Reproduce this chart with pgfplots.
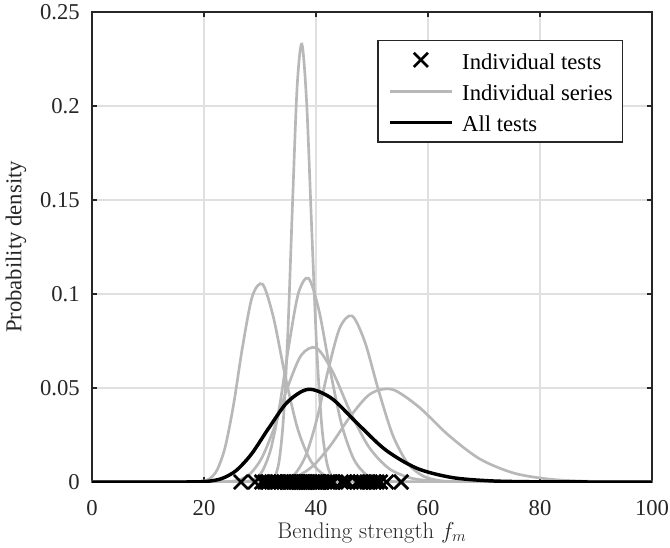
\documentclass[border=0pt]{standalone}
\usepackage{fontspec}
\newfontfamily\tnr{Liberation Serif}
\usepackage{pgfplots}
\pgfplotsset{compat=1.18}
\newcommand{\fsz}{\fontsize{17}{20}\selectfont}
\begin{document}
\begin{tikzpicture}
\useasboundingbox (-69pt,-48.75pt) rectangle (433.5pt,361.5pt);
\begin{axis}[
  at={(0pt,0pt)}, anchor=south west,
  scale only axis, width=420pt, height=352.5pt,
  xmin=0, xmax=100, ymin=0, ymax=0.25,
  xtick={0,20,40,60,80,100},
  xticklabels={0,20,40,60,80,100},
  ytick={0,0.05,0.1,0.15,0.2,0.25},
  yticklabels={0,0.05,0.1,0.15,0.2,0.25},
  scaled y ticks=false, scaled x ticks=false,
  /pgf/number format/assume math mode=true,
  tick label style={font=\tnr\fsz, text=black!85},
  xticklabel style={anchor=base, yshift=-25pt, inner sep=0pt},
  yticklabel style={anchor=east, xshift=-9pt, inner sep=0pt},
  grid=major,
  major grid style={draw=black!12, line width=0.9pt},
  axis line style={draw=black!85, line width=0.9pt},
  tick align=inside,
  major tick length=3.5pt,
  every tick/.style={draw=black!85, line width=0.9pt},
  xlabel={Bending strength $f_m$},
  xlabel style={at={([yshift=-42.3pt]axis description cs:0.5,0)}, anchor=base, font=\fsz, text=black!85},
  ylabel={\tnr Probability density},
  ylabel style={at={([xshift=-57pt]axis description cs:0,0.5)}, anchor=center, font=\tnr\fsz, text=black!85},
  legend image code/.code={\draw[mark repeat=2,mark phase=2,#1] plot coordinates {(0pt,0pt) (23.5pt,0pt) (47pt,0pt)};},
  legend cell align=left,
  legend style={
    at={(rel axis cs:1,1)}, anchor=north east, xshift=-21.75pt, yshift=-21pt,
    draw=black!85, line width=0.9pt, fill=white,
    font=\tnr\fsz,
    inner xsep=7.3pt, inner ysep=7.5pt,
    row sep=9.5pt,
    nodes={inner sep=0pt, text height=14pt, text depth=0pt},
    /tikz/every odd column/.style={column sep=6.2pt},
  },
]
\addlegendimage{only marks, mark=x, mark size=7.5pt, black, line width=2pt}
\addlegendentry{Individual tests}
\addlegendimage{black!28, line width=2pt}
\addlegendentry{Individual series}
\addlegendimage{black, line width=2.6pt}
\addlegendentry{All tests}

% individual series
\addplot[forget plot, black!28, line width=2pt, smooth] coordinates {
(0,0) (18.517,0.0000581) (19.707,0.000356) (20.973,0.001697) (22.320,0.006308) (23.753,0.018257) (25.279,0.041154) (26.902,0.072245) (28.630,0.098774) (30.469,0.10517) (32.426,0.087211) (34.509,0.056320) (36.725,0.028327) (39.084,0.011095) (41.594,0.003385) (44.265,0.000804) (47.108,0.000149) (50.135,0.0000215) (100,0)};
\addplot[forget plot, black!28, line width=2pt, smooth] coordinates {
(0,0) (31.216,0.0000939) (31.938,0.000598) (32.677,0.002966) (33.432,0.011474) (34.204,0.034540) (34.995,0.080987) (35.804,0.14788) (36.631,0.21031) (37.478,0.23293) (38.344,0.20092) (39.230,0.13497) (40.137,0.070612) (41.065,0.028769) (42.014,0.009130) (42.985,0.002255) (43.979,0.000434) (44.996,0.0000652) (100,0)};
\addplot[forget plot, black!28, line width=2pt, smooth] coordinates {
(0,0) (26.410,0.0000533) (27.698,0.000331) (29.048,0.001602) (30.463,0.006045) (31.949,0.017751) (33.506,0.040605) (35.139,0.072333) (36.853,0.10035) (38.649,0.10843) (40.533,0.091240) (42.509,0.059792) (44.582,0.030517) (46.755,0.012130) (49.034,0.003755) (51.424,0.000905) (53.931,0.000170) (56.560,0.0000249) (100,0)};
\addplot[forget plot, black!28, line width=2pt, smooth] coordinates {
(0,0) (22.927,0.0000419) (24.584,0.000254) (26.362,0.001204) (28.268,0.004442) (30.311,0.012759) (32.502,0.028546) (34.852,0.049733) (37.371,0.067485) (40.073,0.071314) (42.970,0.058692) (46.076,0.037618) (49.407,0.018779) (52.979,0.007300) (56.809,0.002210) (60.916,0.000521) (65.320,0.0000957) (70.041,0.0000137) (100,0)};
\addplot[forget plot, black!28, line width=2pt, smooth] coordinates {
(0,0) (31.478,0.0000438) (33.046,0.000272) (34.692,0.001314) (36.419,0.004952) (38.233,0.014528) (40.137,0.033199) (42.136,0.059080) (44.234,0.081885) (46.437,0.088385) (48.750,0.074300) (51.177,0.048643) (53.726,0.024802) (56.401,0.009848) (59.210,0.003046) (62.159,0.000733) (65.255,0.000138) (68.504,0.0000201) (100,0)};
\addplot[forget plot, black!28, line width=2pt, smooth] coordinates {
(0,0) (29.293,0.0000303) (31.591,0.000183) (34.071,0.000861) (36.744,0.003157) (39.628,0.009017) (42.738,0.020057) (46.092,0.034744) (49.709,0.046874) (53.610,0.049249) (58.366,0.039921) (63.544,0.025201) (69.182,0.012390) (75.319,0.004744) (82.001,0.001415) (89.276,0.000328) (97.196,0.0000594) (100,0)};

% all tests
\addplot[forget plot, black, line width=2.6pt, smooth] coordinates {
(0,0) (17.151,0.0000137) (18.983,0.0000916) (21.011,0.000476) (23.255,0.001926) (25.739,0.006075) (28.489,0.014919) (31.533,0.028534) (34.901,0.042504) (38.630,0.049308) (42.757,0.044549) (47.324,0.031347) (52.380,0.017178) (57.976,0.007331) (64.169,0.002437) (71.025,0.000630) (78.613,0.000127) (87.011,0.0000200) (96.307,0.0000024) (100,0)};

% individual tests
\addplot[forget plot, only marks, mark=x, mark size=7.5pt, black, line width=2pt] coordinates {
(26.6,0) (29.1,0) (30.3,0) (30.9,0) (31.5,0) (32.1,0) (32.7,0) (33.2,0) (33.8,0) (34.3,0) (34.8,0) (35.2,0) (35.6,0) (36.0,0) (36.3,0) (36.6,0) (36.9,0) (37.2,0) (37.5,0) (37.8,0) (38.1,0) (38.4,0) (38.7,0) (39.0,0) (39.4,0) (39.8,0) (40.2,0) (40.6,0) (41.1,0) (41.6,0) (42.1,0) (42.6,0) (43.1,0) (44.5,0) (45.1,0) (45.7,0) (47.3,0) (47.9,0) (48.5,0) (49.1,0) (49.7,0) (50.3,0) (50.9,0) (51.5,0) (52.6,0) (55.2,0)};
\end{axis}
\end{tikzpicture}
\end{document}
